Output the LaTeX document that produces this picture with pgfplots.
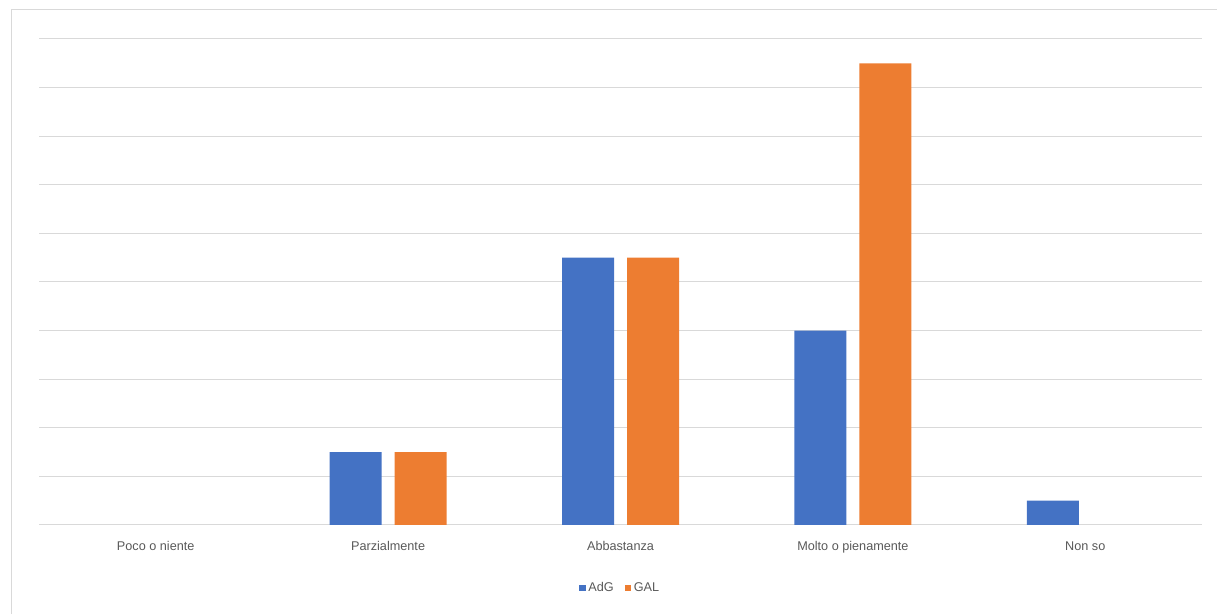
\documentclass[border=0pt]{standalone}
\usepackage{pgfplots}
\pgfplotsset{compat=1.18}
\usepackage{fontspec}
\setmainfont{Liberation Sans}
\definecolor{adg}{HTML}{4472C4}
\definecolor{gal}{HTML}{ED7D31}
\definecolor{gridc}{HTML}{D9D9D9}
\definecolor{txt}{HTML}{595959}
\begin{document}
\begin{tikzpicture}
\path[use as bounding box] (0,0) rectangle (912.75pt,460.5pt);
\draw[color=gridc, line width=0.75pt] (8.25pt,0) -- (8.25pt,453pt) -- (912.75pt,453pt);
\begin{axis}[
  at={(29.625pt,66.75pt)}, anchor=south west,
  scale only axis, width=871.5pt, height=364.5pt,
  xmin=-0.5, xmax=4.5, ymin=0, ymax=10,
  ybar, bar width=39pt,
  xtick={0,1,2,3,4},
  xticklabels={Poco o niente,Parzialmente,Abbastanza,Molto o pienamente,Non so},
  ytick={0,1,...,10}, yticklabels={},
  ymajorgrids, grid style={color=gridc, line width=0.75pt},
  axis line style={draw=none},
  major tick length=0pt,
  xticklabel style={font=\fontsize{9.5}{11}\selectfont, text=txt, anchor=base, yshift=-19.5pt},
  legend style={at={(0.5,-0.1296)}, anchor=center, draw=none, fill=none,
    font=\fontsize{9.5}{11}\selectfont, text=txt, legend columns=2,
    /tikz/every even column/.append style={column sep=6pt}},
  legend image code/.code={\fill[#1] (1pt,-2.5pt) rectangle (6pt,2.5pt);},
  legend cell align=left,
]
\addplot[fill=adg, draw=none, bar shift=-24.375pt] coordinates {(1,1.5) (2,5.5) (3,4) (4,0.5)};
\addplot[fill=gal, draw=none, bar shift=24.375pt] coordinates {(1,1.5) (2,5.5) (3,9.5)};
\legend{AdG,GAL}
\end{axis}
\end{tikzpicture}
\end{document}
